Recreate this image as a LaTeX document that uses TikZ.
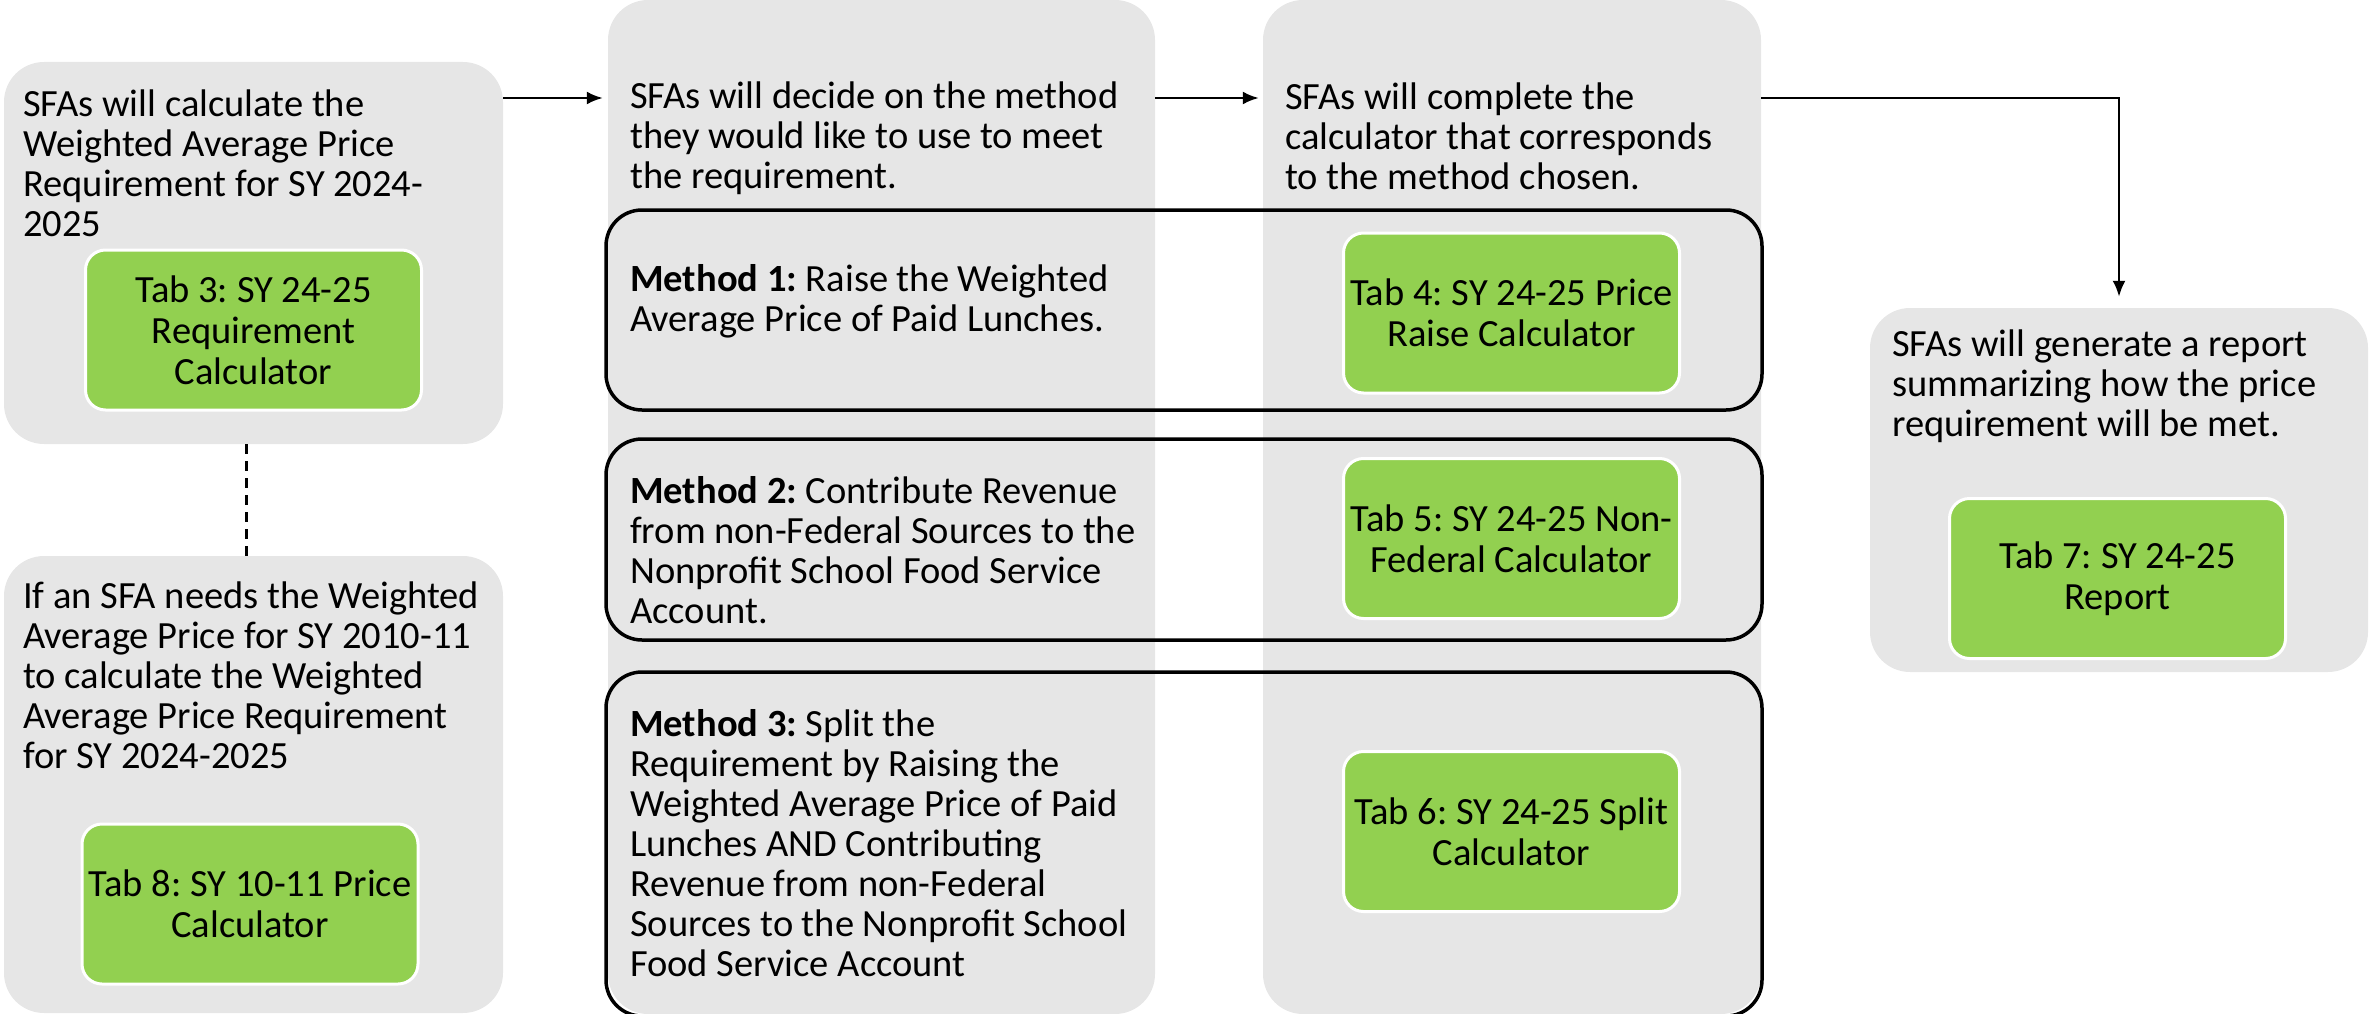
\documentclass[tikz,border=0pt]{standalone}
\usepackage{fontspec}
\setmainfont{Carlito}
\usetikzlibrary{arrows.meta}
\definecolor{panelgray}{RGB}{230,230,230}
\definecolor{tabgreen}{RGB}{146,208,80}
\frenchspacing

\begin{document}
\begin{tikzpicture}[x=1pt, y=-1pt,
  panel/.style={rectangle, rounded corners=40pt, fill=panelgray, inner sep=0pt},
  tabbox/.style={rectangle, rounded corners=20pt, fill=tabgreen, draw=white, line width=3pt,
    minimum width=336pt, minimum height=160pt, align=center, font=\fontsize{38.5}{41}\selectfont},
  steptext/.style={anchor=west, align=left, inner sep=0pt, font=\fontsize{38.5}{40}\selectfont},
  methodbox/.style={rectangle, rounded corners=36pt, draw=black, line width=3.5pt,
    minimum width=1156pt, inner sep=0pt},
  flow/.style={-{Latex[length=16pt,width=13pt]}, line width=2.5pt}]
\clip (0,0) rectangle (2369,1014);

% Gray panels
\node[panel, minimum width=499pt, minimum height=382pt] (boxA) at (253.5,253) {};
\node[panel, minimum width=499pt, minimum height=457pt] (boxA2) at (253.5,784.5) {};
\node[panel, minimum width=547pt, minimum height=1014pt] (boxB) at (881.5,507) {};
\node[panel, minimum width=498pt, minimum height=1014pt] (boxC) at (1512,507) {};
\node[panel, minimum width=498pt, minimum height=364pt] (boxD) at (2119,490) {};

% Method frames
\node[methodbox, minimum height=200pt] (meth1) at (1184,310) {};
\node[methodbox, minimum height=201pt] (meth2) at (1184,539.5) {};
\node[methodbox, minimum height=344pt] (meth3) at (1184,844) {};

% Step texts
\node[steptext] (txtA) at (23,163) {SFAs will calculate the\\Weighted Average Price\\Requirement for SY 2024-\\2025};
\node[steptext] (txtA2) at (23,675) {If an SFA needs the Weighted\\Average Price for SY 2010-11\\to calculate the Weighted\\Average Price Requirement\\for SY 2024-2025};
\node[steptext] (txtB) at (630,138) {SFAs will decide on the method\\they would like to use to meet\\the requirement.};
\node[steptext] (txtC) at (1285,136) {SFAs will complete the\\calculator that corresponds\\to the method chosen.};
\node[steptext] (txtD) at (1892,386) {SFAs will generate a report\\summarizing how the price\\requirement will be met.};
\node[steptext] (txtM1) at (630,301) {\textbf{Method 1:} Raise the Weighted\\Average Price of Paid Lunches.};
\node[steptext] (txtM2) at (630,550) {\textbf{Method 2:} Contribute Revenue\\from non-Federal Sources to the\\Nonprofit School Food Service\\Account.};
\node[steptext] (txtM3) at (630,843) {\textbf{Method 3:} Split the\\Requirement by Raising the\\Weighted Average Price of Paid\\Lunches AND Contributing\\Revenue from non-Federal\\Sources to the Nonprofit School\\Food Service Account};

% Green tabs
\node[tabbox] (tab3) at (253.5,330) {Tab 3: SY 24-25\\Requirement\\Calculator};
\node[tabbox] (tab8) at (250,904) {Tab 8: SY 10-11 Price\\Calculator};
\node[tabbox] (tab4) at (1511.5,313) {Tab 4: SY 24-25 Price\\Raise Calculator};
\node[tabbox] (tab5) at (1511.5,538.5) {Tab 5: SY 24-25 Non-\\Federal Calculator};
\node[tabbox] (tab6) at (1511.5,831.5) {Tab 6: SY 24-25 Split\\Calculator};
\node[tabbox] (tab7) at (2117.5,578.5) {Tab 7: SY 24-25\\Report};

% Connectors
\coordinate (row) at (0,98);
\draw[flow, shorten >=5pt] (boxA.east |- row) -- (boxB.west |- row);
\draw[flow, shorten >=4pt] (boxB.east |- row) -- (boxC.west |- row);
\draw[flow, shorten >=11pt] (boxC.east |- row) -| (boxD.north);
\draw[line width=2.5pt, dash pattern=on 10pt off 7pt] ([xshift=-7pt]boxA.south) -- ([xshift=-7pt]boxA2.north);
\end{tikzpicture}
\end{document}
